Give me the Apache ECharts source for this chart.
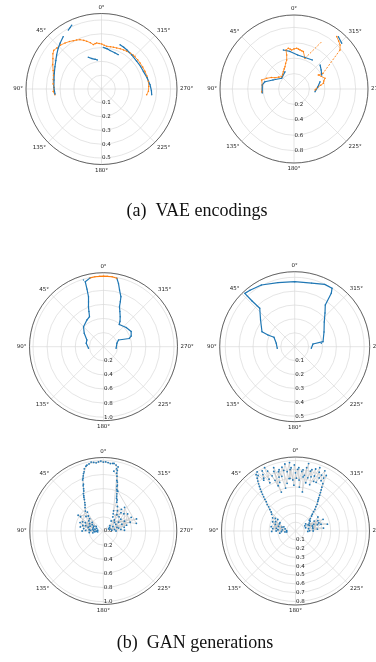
<!DOCTYPE html>
<html><head><meta charset="utf-8">
<script src="https://cdn.jsdelivr.net/npm/echarts@6/dist/echarts.min.js"></script>
<style>html,body{margin:0;padding:0;background:#fff}#c{width:376px;height:662px}</style>
</head><body><div id="c"></div>
<script>
// ---------- tick labels ----------
const angleTicks = [0, 45, 90, 135, 180, 225, 270, 315];
const p1RadialTicks = ['0.1','0.2','0.3','0.4','0.5'];
const p2RadialTicks = ['0.2','0.4','0.6','0.8'];
const p3RadialTicks = ['0.2','0.4','0.6','0.8','1.0'];
const p4RadialTicks = ['0.1','0.2','0.3','0.4','0.5'];
const p5RadialTicks = ['0.0','0.2','0.4','0.6','0.8','1.0'];
const p6RadialTicks = ['0.1','0.2','0.3','0.4','0.5','0.6','0.7','0.8'];
const captionA = '(a)  VAE encodings';
const captionB = '(b)  GAN generations';

// ---------- data: [theta in degrees (0 = top, counter-clockwise), r] ----------
// (a) VAE encodings, left
const p1Orange = [[97,0.34],[93,0.35],[88,0.345],[84,0.352],[79,0.356],[74,0.362],[69,0.375],[63.5,0.395],[58,0.415],[54,0.435],[51,0.445],[47.5,0.44],[43,0.435],[38.4,0.425],[34,0.415],[30.3,0.405],[27,0.398],[23.6,0.39],[20,0.375],[17.2,0.362],[13.5,0.345],[10.5,0.327],[8,0.332],[6,0.335],[3,0.33],[359.7,0.326],[356.5,0.318],[353.1,0.312],[348,0.313],[344,0.315],[339.7,0.317],[335,0.322],[330.5,0.325],[326.2,0.329],[321,0.333],[317,0.336],[314.3,0.339],[309,0.337],[304,0.337],[298,0.338],[292.1,0.34],[286,0.342],[279.3,0.344],[273,0.343],[267.2,0.34],[262.8,0.33]];
const p1BlueA1 = [[25,0.51],[27,0.5],[29.4,0.49]];
const p1BlueA2 = [[36.1,0.47],[42.2,0.447],[47,0.43],[52.8,0.408],[58,0.39],[64.4,0.374],[72,0.36],[79.3,0.35],[88,0.345],[96.1,0.339]];
const p1BlueB = [[22.6,0.249],[17.3,0.231],[12,0.22],[8.2,0.212]];
const p1BlueC = [[357.5,0.302],[352,0.294],[347.5,0.286],[340,0.28],[333.9,0.277]];
const p1BlueD = [[337.3,0.348],[332,0.343],[327.3,0.338],[318,0.33],[308.2,0.325],[300,0.327],[292.9,0.329],[284,0.34],[275.1,0.353],[268,0.362],[263.5,0.366]];
// (a) VAE encodings, right
const p2OrangeA = [[95.3,0.421],[82.8,0.415],[74.4,0.435],[68.6,0.381],[63,0.33],[59.3,0.287],[52,0.25],[45,0.226],[38,0.24],[31.7,0.264],[26,0.29],[22,0.312],[18,0.35],[14.1,0.388],[12.1,0.452],[11.6,0.517],[8,0.534],[5.5,0.52],[3.4,0.507],[0,0.52],[356.2,0.53],[353.5,0.52],[351.3,0.513],[348.5,0.505],[346,0.5],[340.3,0.423]];
const p2OrangeJump1 = [[340.3,0.423],[329.6,0.712]];
const p2OrangeB = [[320.8,0.877],[317,0.85],[313.7,0.827],[310.3,0.783]];
const p2OrangeJump2 = [[310.3,0.783],[298.4,0.428]];
const p2OrangeC = [[298.4,0.428],[300,0.364],[295,0.39],[289,0.426],[285,0.4],[281,0.388],[278,0.35],[275.4,0.317],[271,0.29],[267.3,0.273]];
const p2BlueA = [[15.3,0.525],[6.1,0.49],[353.8,0.444],[340.7,0.433],[327.7,0.445]];
const p2BlueB = [[97.2,0.415],[82.8,0.415],[75.9,0.388],[66.8,0.297],[49,0.212],[27.5,0.253]];
const p2BlueC = [[312.7,0.46],[305,0.43],[296.8,0.403]];
const p2BlueD = [[285.7,0.351],[275,0.31],[262.7,0.275]];
const p2BlueE = [[319.7,0.89],[313.8,0.858]];
// (b) GAN generations, top-left
const p3Orange = [[11,0.995],[7,1.0],[3,1.0],[0,1.0],[357,1.0],[353,1.0],[349,0.99]];
const p3BlueL = [[96.1,0.214],[78.9,0.25],[68,0.254],[55.2,0.333],[45,0.401],[31.9,0.446],[25,0.47],[22.5,0.54],[20.6,0.606],[18.5,0.67],[16.7,0.74],[16,0.85],[15.7,0.958],[16.7,0.988],[11,0.995]];
const p3BlueR = [[349,0.99],[346.7,0.924],[344.2,0.836],[340.8,0.751],[339.5,0.68],[338.2,0.611],[335,0.55],[330.9,0.487],[327,0.43],[324.7,0.386],[310.2,0.422],[298.8,0.448],[291.1,0.421],[287.7,0.383],[294,0.233],[284.2,0.196],[262.8,0.18]];
// (b) GAN generations, top-right
const p4Blue = [[95.3,0.126],[79.5,0.135],[65.6,0.164],[66.3,0.21],[65.4,0.259],[52,0.312],[42.3,0.374],[43,0.45],[43.1,0.526],[38.4,0.518],[28.4,0.505],[14.6,0.477],[0,0.468],[345.1,0.474],[334.3,0.498],[327.4,0.499],[325.6,0.466],[323.7,0.372],[318,0.326],[309.8,0.277],[296.6,0.236],[280,0.207],[277.3,0.193],[278.4,0.133],[264.5,0.12]];
// (b) GAN generations, bottom-left
const p5Points = [[95,0.12],[80,0.15],[70,0.2],[88,0.25],[60,0.18],[75,0.3],[92,0.1],[65,0.28],[85,0.2],[55,0.25],[78,0.12],[100,0.15],[70,0.35],[50,0.32],[82,0.08],[90,0.3],[62,0.22],[45,0.3],[58,0.42],[72,0.15],[87,0.18],[58,0.38],[40,0.35],[68,0.1],[96,0.2],[38,0.42],[33,0.48],[30,0.55],[28,0.6],[25,0.66],[23,0.72],[22,0.78],[20,0.83],[18,0.88],[17,0.92],[15,0.95],[12,0.97],[8,0.98],[4,0.98],[0,0.975],[356,0.97],[352,0.965],[349,0.95],[348,0.9],[350,0.86],[346,0.8],[345,0.74],[343,0.68],[342,0.62],[340,0.56],[338,0.5],[335,0.45],[330,0.4],[320,0.3],[310,0.38],[300,0.25],[290,0.5],[285,0.2],[315,0.22],[325,0.35],[295,0.15],[275,0.12],[305,0.42],[280,0.3],[318,0.45],[288,0.4],[300,0.1],[270,0.18],[312,0.3],[330,0.28],[347,0.88],[340,0.6],[283,0.48],[322,0.18],[295,0.33],[275,0.25],[308,0.2],[292,0.08]];
const p5PointsB = [[98,0.08],[89,0.14],[76,0.22],[63,0.15],[52,0.2],[83,0.28],[66,0.32],[57,0.12],[48,0.26],[73,0.26],[80,0.33],[42,0.38],[35,0.45],[31,0.52],[29,0.57],[26,0.63],[24,0.7],[21,0.8],[19,0.86],[14,0.96],[10,0.99],[6,0.97],[2,0.99],[358,0.98],[354,0.96],[351,0.97],[347,0.93],[347,0.84],[344,0.72],[343,0.66],[341,0.6],[339,0.53],[336,0.48],[333,0.32],[320,0.4],[326,0.24],[316,0.36],[309,0.12],[304,0.3],[298,0.2],[296,0.44],[290,0.28],[286,0.1],[284,0.34],[281,0.22],[278,0.16],[272,0.3]];
// (b) GAN generations, bottom-right
const p6Points = [[85,0.15],[75,0.2],[95,0.12],[65,0.25],[80,0.28],[70,0.14],[90,0.22],[60,0.3],[88,0.1],[72,0.24],[98,0.18],[78,0.12],[66,0.2],[84,0.26],[92,0.16],[58,0.27],[55,0.33],[50,0.38],[47,0.44],[44,0.5],[42,0.56],[40,0.62],[38,0.68],[36,0.74],[35,0.78],[33,0.8],[31,0.7],[29,0.78],[27,0.66],[25,0.75],[22,0.62],[20,0.47],[20,0.72],[18,0.58],[16,0.7],[14,0.64],[12,0.74],[10,0.55],[8,0.68],[5,0.78],[6,0.6],[4,0.72],[2,0.52],[0,0.66],[358,0.7],[356,0.58],[354,0.68],[352,0.62],[350,0.45],[350,0.73],[348,0.56],[346,0.7],[344,0.64],[342,0.74],[340,0.6],[338,0.72],[336,0.66],[334,0.76],[332,0.68],[330,0.62],[329,0.58],[327,0.52],[325,0.46],[323,0.42],[320,0.36],[317,0.3],[313,0.25],[308,0.2],[300,0.18],[290,0.22],[280,0.15],[295,0.28],[270,0.2],[285,0.3],[305,0.14],[275,0.25],[288,0.12],[298,0.24],[282,0.37],[292,0.17],[268,0.14],[302,0.3],[278,0.2],[286,0.26]];
const p6PointsB = [[96,0.1],[86,0.2],[74,0.16],[68,0.28],[82,0.22],[62,0.2],[91,0.27],[57,0.24],[52,0.35],[48,0.41],[45,0.47],[43,0.53],[41,0.59],[39,0.65],[37,0.71],[34,0.76],[32,0.68],[30,0.74],[28,0.62],[26,0.8],[23,0.68],[21,0.55],[19,0.76],[17,0.64],[15,0.72],[13,0.5],[11,0.7],[9,0.77],[7,0.6],[5,0.7],[3,0.58],[1,0.75],[359,0.6],[357,0.72],[355,0.5],[353,0.7],[351,0.64],[349,0.78],[347,0.62],[345,0.72],[343,0.55],[341,0.66],[339,0.77],[337,0.6],[335,0.7],[333,0.64],[331,0.72],[328,0.55],[326,0.49],[324,0.44],[321,0.39],[318,0.33],[315,0.27],[310,0.22],[304,0.2],[296,0.16],[289,0.28],[283,0.2],[276,0.32],[271,0.16],[293,0.34],[299,0.12],[287,0.2]];

// ---------- layout ----------
const BLUE = '#1f77b4', ORANGE = '#ff7f0e';
const layouts = [
  {center:[101.5,89],  radius:75.5, max:0.547, step:0.1, ticks:p1RadialTicks, showMin:false},
  {center:[294,89],    radius:74,   max:0.96,  step:0.2, ticks:p2RadialTicks, showMin:false},
  {center:[103.5,346.7],radius:74,  max:1.05,  step:0.2, ticks:p3RadialTicks, showMin:false},
  {center:[294.7,346.7],radius:75,  max:0.54,  step:0.1, ticks:p4RadialTicks, showMin:false},
  {center:[103.3,531], radius:73.5, max:1.04,  step:0.2, ticks:p5RadialTicks, showMin:true},
  {center:[295.5,531], radius:74,   max:0.84,  step:0.1, ticks:p6RadialTicks, showMin:false}
];
const toPolar = pts => pts.map(p => [p[1], (p[0] + 180) % 360]);
const fmtAngle = v => { const a = (v + 180) % 360; return angleTicks.indexOf(a) >= 0 ? a + '°' : ''; };

const polar = [], angleAxis = [], radiusAxis = [];
layouts.forEach((L, i) => {
  polar.push({center: L.center, radius: L.radius});
  angleAxis.push({
    polarIndex: i, type: 'value', min: 0, max: 360, interval: 45,
    startAngle: -90, clockwise: false,
    axisLine: {lineStyle: {color: '#444', width: 0.8}},
    axisTick: {show: false},
    axisLabel: {fontSize: 5.5, color: '#222', margin: 3, fontFamily: 'DejaVu Sans', formatter: fmtAngle},
    splitLine: {lineStyle: {color: '#d4d4d4', width: 0.6}}
  });
  radiusAxis.push({
    polarIndex: i, type: 'value', min: 0, max: L.max, interval: L.step,
    axisLine: {show: false}, axisTick: {show: false},
    axisLabel: {fontSize: 5.5, color: '#222', fontFamily: 'DejaVu Sans', showMaxLabel: false, showMinLabel: L.showMin,
      margin: 0.5, padding: [0, 0, 6, 0],
      formatter: v => { const s = v.toFixed(1); return L.ticks.indexOf(s) >= 0 ? s : ''; }},
    splitLine: {lineStyle: {color: '#d4d4d4', width: 0.6}}
  });
});

const series = [];
function vae(idx, data, color, width, size, dashed) {
  series.push({
    type: 'line', coordinateSystem: 'polar', polarIndex: idx, data: toPolar(data),
    symbol: dashed ? 'none' : 'circle', symbolSize: size, showSymbol: !dashed,
    lineStyle: {color: color, width: width, type: dashed ? [2, 1.5] : 'solid'},
    itemStyle: {color: color}, silent: true, z: 3
  });
}
vae(0, p1Orange, ORANGE, 0.8, 1.6);
[p1BlueA1, p1BlueA2, p1BlueB, p1BlueC, p1BlueD].forEach(d => vae(0, d, BLUE, 1.2, 1.4));
[p2OrangeA, p2OrangeB, p2OrangeC].forEach(d => vae(1, d, ORANGE, 0.8, 1.6));
[p2OrangeJump1, p2OrangeJump2].forEach(d => vae(1, d, ORANGE, 0.9, 1, true));
[p2BlueA, p2BlueB, p2BlueC, p2BlueD, p2BlueE].forEach(d => vae(1, d, BLUE, 1.2, 1.4));
[p3BlueL, p3BlueR].forEach(d => vae(2, d, BLUE, 1.2, 1.4));
vae(2, p3Orange, ORANGE, 1.2, 1.4);
vae(3, p4Blue, BLUE, 1.2, 1.4);
function gan(idx, data) {
  series.push({
    type: 'line', coordinateSystem: 'polar', polarIndex: idx, data: toPolar(data),
    symbol: 'circle', symbolSize: 1.8, showSymbol: true,
    lineStyle: {color: '#c2c2c2', width: 0.6}, itemStyle: {color: BLUE}, silent: true, z: 3
  });
}
gan(4, p5Points); gan(4, p5PointsB);
gan(5, p6Points); gan(5, p6PointsB);

const chart = echarts.init(document.getElementById('c'), null, {renderer: 'canvas'});
chart.setOption({
  animation: false,
  polar, angleAxis, radiusAxis, series,
  graphic: [
    {type: 'text', x: 197, y: 211, style: {text: captionA, fontSize: 18, fontFamily: 'Liberation Serif', fill: '#111', align: 'center', verticalAlign: 'middle'}},
    {type: 'text', x: 195, y: 643, style: {text: captionB, fontSize: 18, fontFamily: 'Liberation Serif', fill: '#111', align: 'center', verticalAlign: 'middle'}}
  ]
});
</script></body></html>
